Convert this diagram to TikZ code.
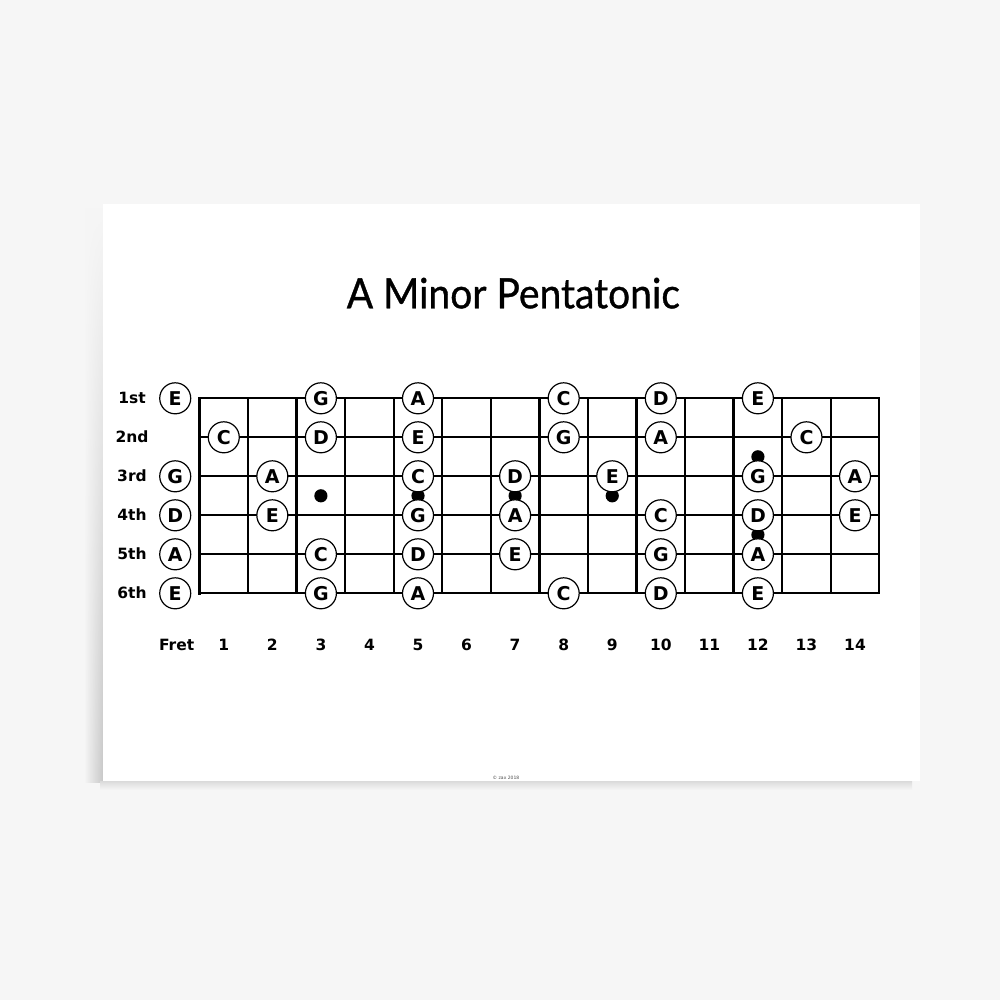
\documentclass[tikz,border=0pt]{standalone}
\usepackage{fontspec}
\usetikzlibrary{fadings}
\setmainfont{DejaVu Sans}
\newfontfamily\titlefont{Lato}[FakeBold=0.9]
\newfontfamily\labfont{DejaVu Sans}
\definecolor{bgc}{RGB}{246,246,246}
\definecolor{shadowc}{RGB}{200,200,200}
\begin{document}
\begin{tikzpicture}[x=1pt,y=-1pt,
  note/.style={circle,draw=black,fill=white,line width=1.2pt,minimum size=31pt,inner sep=0pt,
    font=\labfont\bfseries\fontsize{19}{19}\selectfont},
  lab/.style={anchor=base,font=\labfont\bfseries\fontsize{15.5}{16}\selectfont},
  wire/.style={line width=2.3pt,line cap=rect},
  nut/.style={line width=3.4pt},
  inlay/.style={fill=black}]
\useasboundingbox (0,0) rectangle (1000,1000);
\fill[bgc] (0,0) rectangle (1000,1000);
% canvas shadow
\shade[left color=bgc,right color=shadowc,path fading=north] (84,208) rectangle (103,782);
\shade[top color=shadowc!60!bgc,bottom color=bgc] (100,781) rectangle (912,790);
\fill[white] (102.5,204) rectangle (920,781);
% title
\node[anchor=base] (title) at (513.3,308.3) {\resizebox{333pt}{30.5pt}{\titlefont A Minor Pentatonic}};
% strings
\foreach \s in {1,...,6}
  \draw[wire] (199.5,{398.3+(\s-1)*39}) -- (879.3,{398.3+(\s-1)*39});
% frets
\foreach \k in {1,...,14}
  \draw[wire] ({199.5+\k*48.557},398.3) -- ({199.5+\k*48.557},593.3);
\draw[nut] (199.5,397) -- (199.5,594.6);
% inlays
\foreach \f in {3,5,7,9}
  \fill[inlay] ({199.5+(\f-0.5)*48.557},495.8) circle (6.6);
\fill[inlay] ({199.5+11.5*48.557},456.8) circle (6.6);
\fill[inlay] ({199.5+11.5*48.557},534.8) circle (6.6);
% string labels
\foreach \s/\t in {1/1st,2/2nd,3/3rd,4/4th,5/5th,6/6th}
  \node[lab] (s\s) at (132,{398.3+(\s-1)*39+5.5}) {\t};
% fret labels
\node[lab] (fret) at (176.7,650) {Fret};
\foreach \k in {1,...,14}
  \node[lab] (f\k) at ({199.5+(\k-0.5)*48.557},650) {\k};
% notes
\foreach \f/\s/\n in {
  0/1/E,3/1/G,5/1/A,8/1/C,10/1/D,12/1/E,
  1/2/C,3/2/D,5/2/E,8/2/G,10/2/A,13/2/C,
  0/3/G,2/3/A,5/3/C,7/3/D,9/3/E,12/3/G,14/3/A,
  0/4/D,2/4/E,5/4/G,7/4/A,10/4/C,12/4/D,14/4/E,
  0/5/A,3/5/C,5/5/D,7/5/E,10/5/G,12/5/A,
  0/6/E,3/6/G,5/6/A,8/6/C,10/6/D,12/6/E}
  \node[note] (n\s-\f) at ({199.5+(\f-0.5)*48.557},{398.3+(\s-1)*39}) {\n};
% copyright
\node[font=\labfont\fontsize{4.5}{5}\selectfont,text=black!70] (copy) at (506,777.5) {© zax 2018};
\end{tikzpicture}
\end{document}
